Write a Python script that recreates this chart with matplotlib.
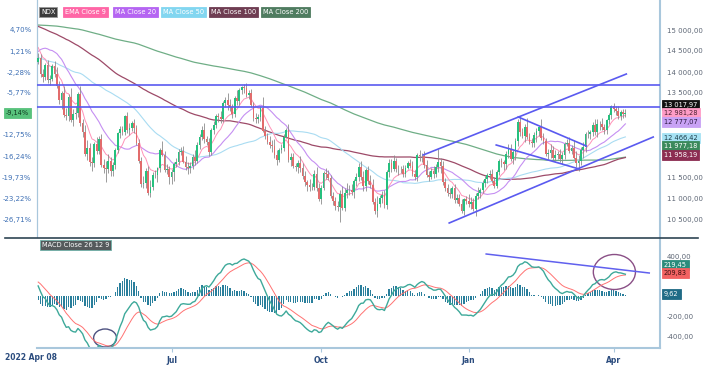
import numpy as np
import pandas as pd
import matplotlib
matplotlib.use('Agg')
import matplotlib.pyplot as plt
from matplotlib.patches import Ellipse
from matplotlib.lines import Line2D

# NYSE sessions shown on the chart
holidays = ['2022-04-15', '2022-05-30', '2022-06-20', '2022-07-04', '2022-09-05', '2022-11-24',
            '2022-12-26', '2023-01-02', '2023-01-16', '2023-02-20', '2023-04-07']
dates = pd.bdate_range('2022-04-08', '2023-04-11')
dates = dates[~dates.isin(pd.to_datetime(holidays))]

# 200 sessions before the first candle, only used to warm up the averages / MACD
prior_close = [
    14370, 14400, 14520, 14530, 14550,
    14620, 14660, 14740, 14660, 14760, 14770, 14840, 14860, 14770, 14640, 14700, 14560, 14720, 14850, 15000,
    15010, 15100, 14960, 14870, 14990, 14960,
    15000, 15020, 14970, 15100, 15080, 15130, 15020, 15030, 15070, 15120, 15150, 15000, 14790, 14900, 14830,
    15100, 15290, 15330, 15370, 15370, 15530, 15580,
    15620, 15610, 15640, 15580, 15450, 15300, 15370, 15340, 15380, 15330, 15210, 15050, 14980, 15130, 15290,
    15310, 15310, 15100, 14700, 14690, 14450,
    14660, 14350, 14550, 14700, 14760, 14650, 14490, 14540, 14720, 14990, 15050, 15180, 15230, 15250, 15220,
    15420, 15430, 15360, 15540, 15720, 15850,
    15910, 15970, 16150, 16350, 16380, 16330, 16220, 15980, 16050, 16180, 16170, 16300, 16280, 16480, 16570,
    16370, 16300, 16350, 16030, 16370, 16140,
    15830, 16110, 15710, 15950, 16320, 16370, 16260, 16410, 16210, 16030, 16190, 15640, 15580, 15440, 15620,
    16010, 16160, 16320, 16460, 16430, 16400, 16320,
    16500, 16280, 15770, 15760, 15600, 15620, 15850, 15900, 15500, 15610, 15230, 15030, 14840, 14450, 14520,
    14170, 14190, 14010, 14440, 14930,
    15010, 15090, 14500, 14680, 14600, 14730, 15050, 14730, 14270, 14270, 14620, 14630, 14180, 14000, 13900,
    13570, 14020, 14240, 14240,
    14000, 14250, 14030, 13840, 13320, 13280, 13770, 13600, 13300, 13050, 13440, 13950, 14130, 14420, 14360,
    14650, 14440, 14760, 14770, 14990, 15240, 15070, 14840,
    14860, 15000, 14700, 14380, 14390,
]

close = [
    # 2022 Apr
    14327, 13964, 13890, 14157, 13815, 13837, 14135, 13960, 13677, 13326, 13490, 12979, 12953, 13414, 12855,
    # May
    13002, 13029, 13468, 12775, 12580, 12051, 12200, 11847, 11829, 12275, 12118, 12405, 11784, 11715, 11685,
    11880, 11635, 11787, 12138, 12543, 12643,
    # Jun
    12581, 12946, 12613, 12662, 12774, 12670, 12317, 11886, 11340, 11364, 11631, 11128, 11263, 11555, 11536,
    11707, 12141, 12034, 11671, 11689, 11503,
    # Jul
    11614, 11807, 11853, 12102, 12126, 11862, 11743, 11726, 11761, 11978, 11890, 12263, 12452, 12627, 12396,
    12326, 12090, 12608, 12744, 12947,
    # Aug
    12928, 12882, 13260, 13323, 13205, 13164, 13003, 13376, 13304, 13560, 13635, 13621, 13454, 13489, 13226,
    12893, 12880, 12919, 13140, 12605, 12467, 12330, 12272,
    # Sep
    12227, 12014, 11907, 12150, 12196, 12460, 12620, 11893, 11983, 11772, 11735, 11823, 11714, 11525, 11374,
    11311, 11254, 11260, 11583, 11237, 10971,
    # Oct
    11239, 11598, 11576, 11487, 11039, 10923, 10801, 10789, 11103, 10759, 11118, 11198, 11180, 11140, 11397,
    11506, 11747, 11491, 11292, 11665, 11405,
    # Nov
    11300, 10900, 10700, 10860, 10990, 11070, 10830, 11620, 11840, 11700, 11870, 11700, 11680, 11680, 11560,
    11720, 11840, 11760, 11580, 11500, 12030,
    # Dec
    12000, 11990, 11780, 11550, 11510, 11650, 11570, 11730, 11850, 11760, 11370, 11250, 11130, 11090, 11230,
    10960, 11010, 10860, 10680, 10970, 10940,
    # 2023 Jan
    10860, 10910, 10740, 11040, 11110, 11180, 11365, 11460, 11540, 11560, 11400, 11290, 11620, 11880, 11850,
    11810, 12040, 12170, 11920, 12100,
    # Feb
    12360, 12800, 12570, 12480, 12700, 12460, 12340, 12300, 12500, 12590, 12680, 12440, 12360, 12050, 12060,
    12150, 11950, 12020, 12040,
    # Mar
    11940, 12030, 12295, 12300, 12120, 12200, 11960, 11830, 11880, 12150, 12210, 12520, 12520, 12560, 12740,
    12560, 12770, 12770, 12680, 12610, 12850, 12970, 13180,
    # Apr
    13125, 13074, 12941, 13040, 13011, 13017.97,
]
first_open = 14250

# wick lengths above / below the candle body (points)
wick_up = [
    120, 90, 110, 60, 140, 80, 50, 130, 150, 110, 60, 180, 160, 70, 200,
    120, 150, 60, 200, 110, 160, 180, 120, 130, 60, 170, 60, 110, 150, 160, 170, 90, 70, 50, 40, 80,
    60, 40, 110, 130, 60, 100, 80, 90, 100, 170, 90, 130, 160, 70, 120, 40, 50, 210, 80, 130, 70,
    80, 60, 90, 70, 80, 110, 140, 120, 90, 80, 170, 60, 70, 80, 170, 90, 110, 60, 80, 60,
    70, 150, 60, 70, 170, 150, 80, 60, 190, 50, 40, 90, 120, 80, 110, 70, 130, 80, 60, 260, 120, 90, 140,
    120, 180, 120, 50, 90, 60, 50, 150, 80, 100, 70, 80, 170, 120, 110, 60, 140, 100, 80, 150, 130,
    70, 50, 110, 100, 60, 100, 90, 130, 80, 180, 110, 170, 110, 150, 60, 90, 80, 130, 150, 50, 90,
    140, 150, 110, 180, 70, 100, 110, 40, 90, 90, 160, 80, 90, 90, 100, 60, 50, 80, 110, 90, 40,
    110, 80, 120, 120, 100, 60, 110, 80, 320, 110, 120, 100, 90, 110, 60, 110, 80, 80, 120, 40, 70,
    150, 120, 90, 70, 150, 50, 60, 70, 60, 110, 130, 100, 40, 60, 80, 60, 70, 110, 110, 40,
    60, 70, 150, 100, 60, 200, 90, 90, 60, 80, 40, 190, 110, 80, 100, 130, 80, 120, 90,
    120, 60, 40, 110, 160, 60, 170, 150, 150, 60, 120, 60, 90, 70, 60, 150, 100, 60, 130, 90, 40, 50, 30,
    80, 70, 110, 50, 80, 90,
]
wick_dn = [
    60, 80, 120, 90, 70, 130, 60, 70, 60, 80, 200, 40, 90, 110, 50,
    150, 120, 90, 60, 120, 60, 150, 90, 180, 100, 70, 80, 50, 120, 300, 80, 120, 110, 90, 70, 120,
    90, 80, 60, 110, 70, 120, 50, 60, 70, 90, 120, 60, 110, 80, 70, 150, 90, 40, 60, 90, 160,
    170, 210, 60, 60, 90, 40, 70, 160, 140, 60, 110, 60, 90, 70, 80, 60, 80, 70, 90, 80,
    120, 100, 80, 90, 110, 100, 100, 70, 80, 80, 80, 110, 60, 90, 60, 60, 90, 100, 80, 30, 60, 50, 80,
    130, 60, 110, 60, 90, 70, 40, 40, 120, 60, 100, 150, 90, 70, 80, 140, 90, 60, 60, 60, 50,
    120, 60, 120, 60, 50, 90, 80, 90, 350, 40, 60, 110, 100, 80, 150, 100, 100, 60, 120, 120, 60,
    60, 40, 80, 160, 80, 110, 60, 100, 120, 80, 60, 70, 130, 80, 60, 70, 40, 50, 50, 60, 100,
    120, 140, 60, 60, 100, 60, 90, 60, 120, 170, 70, 90, 80, 90, 80, 70, 90, 50, 40, 80, 90,
    80, 120, 60, 160, 60, 120, 70, 100, 110, 90, 40, 50, 50, 80, 100, 150, 120, 90, 40, 110,
    200, 110, 90, 60, 150, 60, 60, 90, 80, 170, 110, 50, 80, 60, 120, 110, 80, 70, 90,
    80, 130, 90, 60, 40, 80, 40, 100, 185, 90, 190, 110, 100, 110, 90, 60, 100, 140, 60, 90, 90, 80, 80,
    70, 90, 60, 90, 110, 80,
]

# last values printed in the right-hand tags
price_tags = [13017.97, 12981.28, 12777.07, 12466.42, 11977.18, 11958.19]
macd_tags = [219.45, 209.83, 9.62]

# hand drawn lines: (session index, value) pairs
trend_lines = [((164.6, 12024), (251.4, 13952)),
               ((175.7, 10405), (262.9, 12452)),
               ((205.2, 12929), (234.3, 12238)),
               ((195.8, 12262), (231.3, 11690))]
h_levels = [13690, 13167]
macd_trend = ((191.5, 420), (261.2, 230))
circles = [(28.6, -420, 9.8, 180, '#4d5180'), (246.3, 240, 18, 350, '#8a4f86')]

# ---- derived series
c = np.array(close, dtype=float)
o = np.r_[first_open, c[:-1]]
h = np.maximum(o, c) + np.array(wick_up)
l = np.minimum(o, c) - np.array(wick_dn)
x = np.arange(len(c))
base = c[0]

full = pd.Series(prior_close + close, dtype=float)
n0 = len(prior_close)
ema9 = full.ewm(span=9, adjust=False).mean().values[n0:]
ma20 = full.rolling(20).mean().values[n0:]
ma50 = full.rolling(50).mean().values[n0:]
ma100 = full.rolling(100).mean().values[n0:]
ma200 = full.rolling(200).mean().values[n0:]
macd = full.ewm(span=12, adjust=False).mean() - full.ewm(span=26, adjust=False).mean()
signal = macd.ewm(span=9, adjust=False).mean()
hist = (macd - signal).values[n0:]
macd = macd.values[n0:]
signal = signal.values[n0:]

W, H = 715, 369
fig = plt.figure(figsize=(W / 100, H / 100), dpi=100)


def px_box(left, top, right, bottom):
    return [left / W, 1 - bottom / H, (right - left) / W, (bottom - top) / H]


ax = fig.add_axes(px_box(37, 0, 660, 237))
axm = fig.add_axes(px_box(37, 238, 660, 348), sharex=ax)

edge = '#a9c7dc'
up_c, dn_c = '#26c07e', '#e26c6c'

# candles
cols = np.where(c >= o, up_c, dn_c)
ax.vlines(x, l, h, color='#8c8c8c', lw=0.6, zorder=3)
ax.bar(x, c - o, bottom=o, width=0.75, color=cols, lw=0, zorder=4)

# averages
ax.plot(x, ma200, color='#6fae86', lw=0.9, zorder=2)
ax.plot(x, ma100, color='#9d4a68', lw=0.9, zorder=2)
ax.plot(x, ma50, color='#a9dcf2', lw=0.8, zorder=2)
ax.plot(x, ma20, color='#c58ff2', lw=0.8, zorder=2)
ax.plot(x, ema9, color='#ff92b8', lw=0.7, zorder=2)

for lvl in h_levels:
    ax.axhline(lvl, color='#5a5af0', lw=1.2, zorder=5)
for (x0, y0), (x1, y1) in trend_lines:
    ax.plot([x0, x1], [y0, y1], color='#5a5af0', lw=1.2, zorder=5)

ax.set_xlim(-0.5, 265.8)
ax.set_ylim(15000 - 207 / 0.042, 15000 + 30 / 0.042)

price_ticks = [15000, 14500, 14000, 13500, 11500, 11000, 10500]
ax.yaxis.tick_right()
ax.set_yticks(price_ticks)
ax.set_yticklabels([f'{v:,.2f}'.replace(',', ' ').replace('.', ',') for v in price_ticks])
ax.tick_params(axis='y', length=0, pad=5, labelsize=5, labelcolor='#5d6675')
ax.tick_params(axis='x', bottom=False, labelbottom=False)
for s in ['top', 'bottom']:
    ax.spines[s].set_visible(False)
ax.spines['left'].set_color(edge)
ax.spines['right'].set_color(edge)
ax.spines['right'].set_linewidth(1.5)

pct = ax.secondary_yaxis('left', functions=(lambda p: (p / base - 1) * 100, lambda q: base * (1 + q / 100)))
pct_prices = [15000, 14500, 14000, 13500, 12500, 12000, 11500, 11000, 10500]
pct_vals = [(p / base - 1) * 100 for p in pct_prices]
pct.set_yticks(pct_vals)
pct.set_yticklabels([f'{v:.2f}%'.replace('.', ',') for v in pct_vals])
pct.tick_params(length=0, pad=4, labelsize=5, labelcolor='#3d6fb4')
pct.spines['left'].set_color(edge)

# MACD panel
axm.bar(x, hist, width=0.55, color='#2a7f9c', lw=0)
axm.plot(x, signal, color='#ff7272', lw=0.7)
axm.plot(x, macd, color='#3ea99a', lw=1.0)
axm.plot([macd_trend[0][0], macd_trend[1][0]], [macd_trend[0][1], macd_trend[1][1]], color='#6060ee', lw=1.1)
for cx, cy, ew, eh, ec in circles:
    axm.add_patch(Ellipse((cx, cy), ew, eh, fill=False, ec=ec, lw=1.0))
axm.set_ylim(-520, 580)
axm.yaxis.tick_right()
macd_ticks = [400, -200, -400]
axm.set_yticks(macd_ticks)
axm.set_yticklabels([f'{v:.2f}'.replace('.', ',') for v in macd_ticks])
axm.tick_params(axis='y', length=0, pad=5, labelsize=5, labelcolor='#5d6675')

month_ticks = ['2022-07-01', '2022-10-03', '2023-01-03', '2023-04-03']
axm.set_xticks([dates.get_loc(pd.Timestamp(d)) for d in month_ticks])
axm.set_xticklabels(['Jul', 'Oct', 'Jan', 'Apr'])
axm.tick_params(axis='x', length=3, color=edge, labelsize=5.5, labelcolor='#2b4c7e', pad=3)
for t in axm.get_xticklabels():
    t.set_fontweight('bold')
axm.spines['top'].set_visible(False)
axm.spines['left'].set_visible(False)
axm.spines['bottom'].set_color(edge)
axm.spines['right'].set_color(edge)
axm.spines['bottom'].set_linewidth(1.5)
axm.spines['right'].set_linewidth(1.5)

fig.text(5 / W, 1 - 357 / H, f'{dates[0]:%Y %b %d}', fontsize=5.5, color='#2b4c7e',
         fontweight='bold', va='center', ha='left')

# panel separator
fig.add_artist(Line2D([5 / W, 698 / W], [1 - 238 / H] * 2, color='#2f4554', lw=1.2))


def tag(xp, yp, text, fc, tc='white', ec=None, fs=4.8):
    fig.text(xp / W, 1 - yp / H, text, fontsize=fs, color=tc, va='center', ha='left',
             bbox=dict(boxstyle='square,pad=0.3', fc=fc, ec=ec or fc, lw=0.6))


# legend tags
legend = [('NDX', 41, '#3b3b3b', 'white', '#999999'),
          ('EMA Close 9', 65, '#ff66a6', 'white', None),
          ('MA Close 20', 115, '#b565f2', 'white', None),
          ('MA Close 50', 163, '#82d6f0', 'white', None),
          ('MA Close 100', 211, '#6f3d52', 'white', None),
          ('MA Close 200', 263, '#4f7c60', 'white', None)]
for txt, xp, fc, tc, ec in legend:
    tag(xp, 12, txt, fc, tc, ec)

tag(42, 245, 'MACD Close 26 12 9', '#555a5c', 'white', '#6fb0a8')


def fmt_price(v):
    return f'{v:,.2f}'.replace(',', ' ').replace('.', ',')


tag_style = [(105, '#111111', 'white'), (113, '#ff9cc6', '#4a2030'), (122, '#c8a2f5', '#2a1840'),
             (138, '#a6e2f4', '#1d3d4a'), (146, '#3b8a5c', 'white'), (155, '#8c2d52', 'white')]
for v, (yp, fc, tc) in zip(price_tags, tag_style):
    tag(664, yp, fmt_price(v), fc, tc)

tag(6, 113, f'{(c[-1] / base - 1) * 100:.2f}%'.replace('.', ','), '#58c27c', '#103820')

macd_style = [(265, '#2b8c7c', 'white'), (273, '#f26262', '#3a1010'), (294, '#1f6b86', 'white')]
for v, (yp, fc, tc) in zip(macd_tags, macd_style):
    tag(664, yp, f'{v:.2f}'.replace('.', ','), fc, tc)

fig.savefig('out.png', dpi=100)
